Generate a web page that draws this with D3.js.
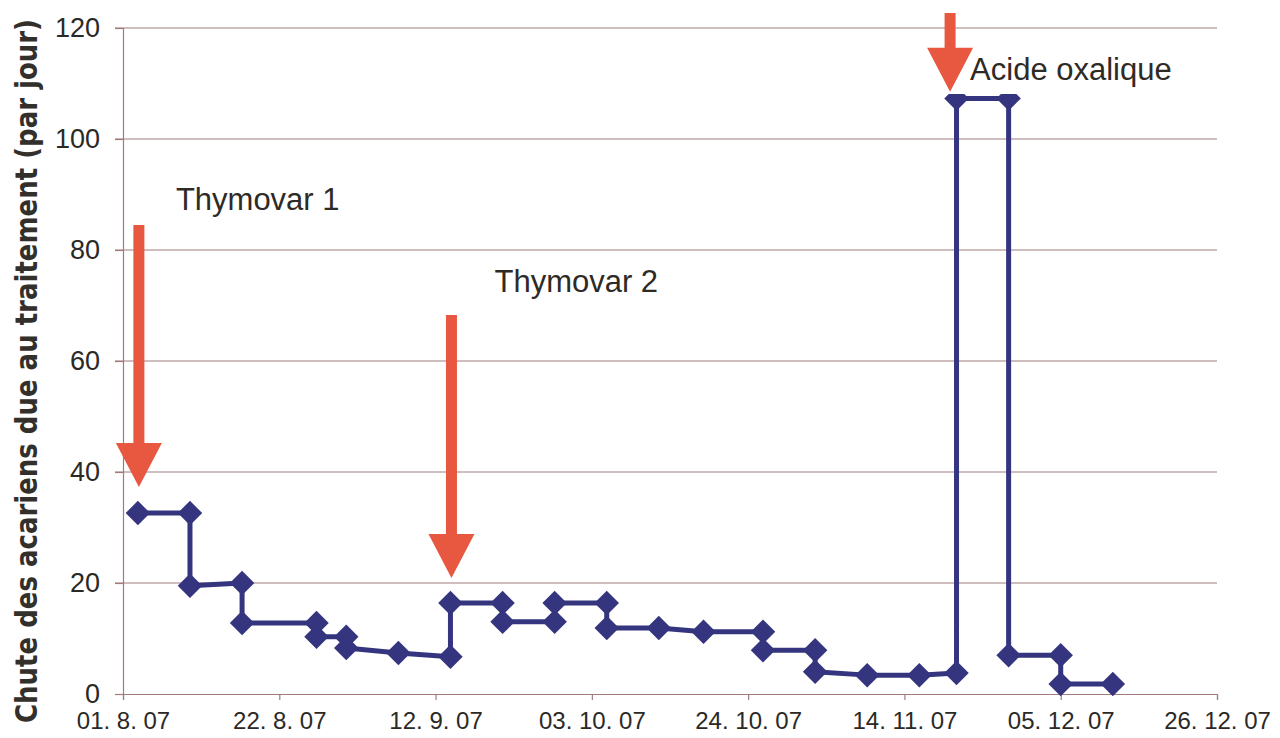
<!doctype html>
<html>
<head>
<meta charset="utf-8">
<style>
  body { margin: 0; background: #fff; }
  svg { display: block; }
  .tick text { fill: #2b2926; font-family: Arial, "Liberation Sans", sans-serif; }
  .note { fill: #2e2a26; font-family: Arial, "Liberation Sans", sans-serif; font-size: 31px; }
</style>
<script src="https://d3js.org/d3.v7.min.js"></script>
</head>
<body>
<svg width="1280" height="738"></svg>
<script>
// observation dates and daily mite fall
var dates = ["2007-08-03", "2007-08-10", "2007-08-10", "2007-08-17", "2007-08-17",
             "2007-08-27", "2007-08-27", "2007-08-31", "2007-08-31", "2007-09-07",
             "2007-09-14", "2007-09-14", "2007-09-21", "2007-09-21", "2007-09-28",
             "2007-09-28", "2007-10-05", "2007-10-05", "2007-10-12", "2007-10-18",
             "2007-10-26", "2007-10-26", "2007-11-02", "2007-11-02", "2007-11-09",
             "2007-11-16", "2007-11-21", "2007-11-21", "2007-11-28", "2007-11-28",
             "2007-12-05", "2007-12-05", "2007-12-12"];
var values = [32.6, 32.6, 19.5, 20.0, 12.8,
              12.8, 10.3, 10.3, 8.3, 7.4,
              6.7, 16.4, 16.4, 13.0, 13.0,
              16.4, 16.4, 11.9, 11.9, 11.2,
              11.2, 7.9, 7.9, 4.0, 3.4,
              3.4, 3.8, 107.3, 107.3, 7.0,
              7.0, 1.8, 1.8];

var xTicks = ["2007-08-01", "2007-08-22", "2007-09-12", "2007-10-03",
              "2007-10-24", "2007-11-14", "2007-12-05", "2007-12-26"];
var yTicks = [0, 20, 40, 60, 80, 100, 120];

// treatments
var treatNames = ["Thymovar 1", "Thymovar 2", "Acide oxalique"];
var treatDates = ["2007-08-03", "2007-09-14", "2007-11-20"];
var arrowFrom = [84.5, 68.3, 122.7];
var arrowTo = [37.3, 20.9, 108.5];

var parse = d3.timeParse("%Y-%m-%d");
var data = dates.map(function(d, i) { return {date: parse(d), value: values[i]}; });

var svg = d3.select("svg");
var plotLeft = 123, plotRight = 1217, plotTop = 28, plotBottom = 694;

var x = d3.scaleTime().domain([parse("2007-08-01"), parse("2007-12-26")]).range([plotLeft, plotRight]);
var y = d3.scaleLinear().domain([0, 120]).range([plotBottom, plotTop]);

var gridColor = "#a27c7c";

// horizontal grid
svg.append("g")
   .selectAll("line")
   .data(yTicks.filter(function(d) { return d > 0; }))
   .enter().append("line")
   .attr("x1", plotLeft - 8).attr("x2", plotRight)
   .attr("y1", function(d) { return y(d); })
   .attr("y2", function(d) { return y(d); })
   .attr("stroke", gridColor)
   .attr("stroke-width", 1.2);

var yAxis = svg.append("g")
   .attr("transform", "translate(" + plotLeft + ",0)")
   .call(d3.axisLeft(y).tickValues(yTicks).tickSize(8).tickPadding(15));
yAxis.selectAll("text").attr("font-size", "27px");

var xAxis = svg.append("g")
   .attr("transform", "translate(0," + plotBottom + ")")
   .call(d3.axisBottom(x).tickValues(xTicks.map(parse)).tickSize(6).tickPadding(12)
           .tickFormat(d3.timeFormat("%d. %-m. %y")));
xAxis.selectAll("text").attr("font-size", "24px");

svg.selectAll(".domain, .tick line").attr("stroke", gridColor).attr("stroke-width", 1.2);

// axis title
svg.append("text")
   .attr("transform", "translate(37,371) rotate(-90)")
   .attr("text-anchor", "middle")
   .attr("font-family", "'Liberation Sans Narrow', 'DejaVu Sans Condensed', sans-serif")
   .attr("font-weight", "bold")
   .attr("font-size", "30px")
   .attr("fill", "#33302c")
   .attr("textLength", 704)
   .attr("lengthAdjust", "spacingAndGlyphs")
   .text("Chute des acariens due au traitement (par jour)");

// series
var line = d3.line()
   .x(function(d) { return x(d.date); })
   .y(function(d) { return y(d.value); });

svg.append("path")
   .datum(data)
   .attr("fill", "none")
   .attr("stroke", "#35357f")
   .attr("stroke-width", 5)
   .attr("stroke-linejoin", "round")
   .attr("d", line);

svg.append("clipPath").attr("id", "clip")
   .append("rect")
   .attr("x", plotLeft).attr("width", plotRight - plotLeft)
   .attr("y", y(108.1)).attr("height", plotBottom - y(108.1) + 20);

svg.append("g")
   .attr("clip-path", "url(#clip)")
   .selectAll("path")
   .data(data)
   .enter().append("path")
   .attr("transform", function(d) { return "translate(" + x(d.date) + "," + y(d.value) + ") rotate(45)"; })
   .attr("d", d3.symbol(d3.symbolSquare, 300))
   .attr("fill", "#35357f");

// treatment arrows
var headLen = 44, headHalf = 23, shaft = 5.5;
treatDates.forEach(function(t, i) {
    var cx = x(parse(t)) + 1, y0 = y(arrowFrom[i]), y1 = y(arrowTo[i]);
    var path = d3.path();
    path.moveTo(cx - shaft, y0);
    path.lineTo(cx + shaft, y0);
    path.lineTo(cx + shaft, y1 - headLen);
    path.lineTo(cx + headHalf, y1 - headLen);
    path.lineTo(cx, y1);
    path.lineTo(cx - headHalf, y1 - headLen);
    path.lineTo(cx - shaft, y1 - headLen);
    path.closePath();
    svg.append("path").attr("d", path.toString()).attr("fill", "#e8573f");
});

// treatment labels
var labelDx = [38, 44, 21];
var labelY = [210, 292, 80];
treatNames.forEach(function(n, i) {
    svg.append("text")
       .attr("class", "note")
       .attr("x", x(parse(treatDates[i])) + labelDx[i])
       .attr("y", labelY[i])
       .text(n);
});
</script>
</body>
</html>
